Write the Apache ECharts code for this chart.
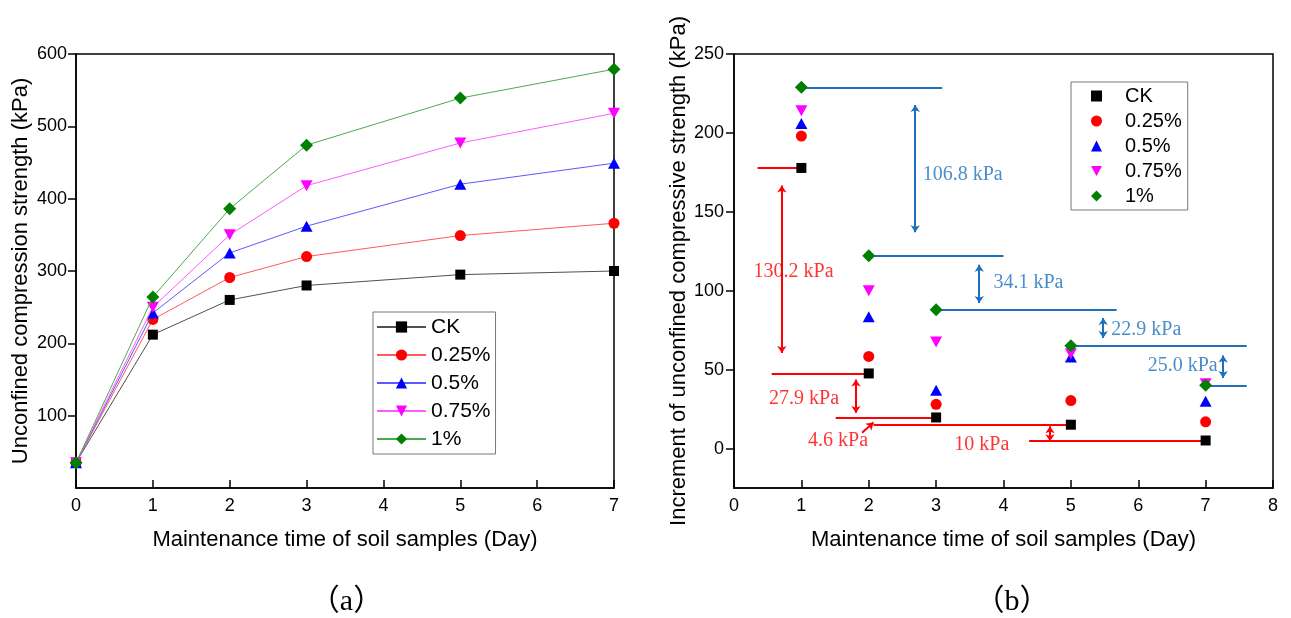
<!DOCTYPE html>
<html>
<head>
<meta charset="utf-8">
<script src="https://cdn.jsdelivr.net/npm/echarts@6/dist/echarts.min.js"></script>
<style>html,body{margin:0;padding:0;background:#fff;}#main{width:1291px;height:618px;}</style>
</head>
<body>
<div id="main"></div>
<script>
// ---------- Data: panel (a) ----------
const seriesNames = ['CK', '0.25%', '0.5%', '0.75%', '1%'];
const daysA = [0, 1, 2, 3, 5, 7];
const ckA   = [35, 212, 260, 280, 295, 300];
const p025A = [35, 233, 291, 320, 349, 366];
const p05A  = [35, 242, 325, 362, 420, 449];
const p075A = [35, 250, 350, 418, 477, 518];
const p1A   = [35, 264, 386, 474, 539, 579];
const xTicksA = [0, 1, 2, 3, 4, 5, 6, 7];
const yTicksA = [100, 200, 300, 400, 500, 600];

// ---------- Data: panel (b) ----------
const daysB = [1, 2, 3, 5, 7];
const ckB   = [177.8, 47.6, 19.7, 15.1, 5.1];
const p025B = [198, 58.4, 28, 30.4, 16.9];
const p05B  = [206, 83.5, 37, 58, 30];
const p075B = [214, 100, 67.5, 60, 41];
const p1B   = [228.9, 122.1, 88, 65.1, 40.1];
const yTicksB = [0, 50, 100, 150, 200, 250];

// ---------- Annotations (panel b, data units) ----------
const redLines   = [[0.35,177.8,1,177.8],[0.56,47.6,2.05,47.6],[1.51,19.7,3,19.7],[2.07,15.1,5,15.1],[4.38,5.1,7,5.1]];
const redArrows  = [[0.71,166.6,0.71,60.6],[1.81,43.7,1.81,22.5],[4.69,14.1,4.69,4.6]];
const redPointer = [[1.9,10,2.07,16.5]];
const blueLines  = [[1,228.9,3.09,228.9],[2,122.1,4.0,122.1],[3,88,5.68,88],[5,65.1,7.61,65.1],[7,40.1,7.61,40.1]];
const blueArrows = [[2.69,217.7,2.69,137],[3.64,116.5,3.64,92.2],[5.48,82.7,5.48,70],[7.26,58.9,7.26,44.7]];
const redLabels  = [[0.29,111.8,'130.2 kPa'],[0.52,31.6,'27.9 kPa'],[1.1,4.7,'4.6 kPa'],[3.27,2.1,'10 kPa']];
const blueLabels = [[2.8,173.4,'106.8 kPa'],[3.85,104.9,'34.1 kPa'],[5.6,75.3,'22.9 kPa'],[6.14,52.7,'25.0 kPa']];

// ---------- Styles ----------
const SANS = "'Liberation Sans', Arial, sans-serif";
const SERIF = "'Liberation Serif', 'Times New Roman', serif";
const markerColors = ['#000000', '#ff0000', '#0000ff', '#ff00ff', '#008000'];
const lineColors = ['#505050', '#ff5a5a', '#5a5aff', '#ff5aff', '#4caa4c'];
const symbols = ['rect', 'circle', 'triangle', 'triangle', 'diamond'];
const symbolRot = [0, 0, 0, 180, 0];
const symSizeA = [10, 11, [12, 11], [12, 11], 13];
const symSizeB = [10, 11, [12, 11], [12, 11], 13];
const RED = '#ff0000';
const BLUE = '#1c70bd';
const legendIconsB = [null, null, null, 'path://M0 0L12 0L6 11Z', null];

const valsA = [ckA, p025A, p05A, p075A, p1A];
const valsB = [ckB, p025B, p05B, p075B, p1B];

function axisCommon(extra) {
  return Object.assign({
    type: 'value',
    splitLine: { show: false },
    axisLine: { show: true, onZero: false, lineStyle: { color: '#000', width: 1.5 } },
    axisLabel: { color: '#000', fontSize: 18, fontFamily: SANS },
    nameLocation: 'middle',
    nameTextStyle: { color: '#000', fontSize: 22, fontFamily: SANS }
  }, extra);
}

const series = [];
seriesNames.forEach((n, i) => {
  series.push({
    name: n, type: 'line', xAxisIndex: 0, yAxisIndex: 0,
    data: daysA.map((d, k) => [d, valsA[i][k]]),
    symbol: symbols[i], symbolRotate: symbolRot[i], symbolSize: symSizeA[i],
    showAllSymbol: true,
    lineStyle: { color: lineColors[i], width: 1 },
    itemStyle: { color: markerColors[i] },
    z: 3 + i, silent: true, animation: false
  });
});
seriesNames.forEach((n, i) => {
  series.push({
    name: n + ' ', type: 'scatter', xAxisIndex: 1, yAxisIndex: 1,
    data: daysB.map((d, k) => [d, valsB[i][k]]),
    symbol: symbols[i], symbolRotate: symbolRot[i], symbolSize: symSizeB[i],
    itemStyle: { color: markerColors[i], opacity: 1 },
    z: 10 + i, silent: true, animation: false
  });
});
function linesSeries(arr, color, sym) {
  return {
    type: 'lines', coordinateSystem: 'cartesian2d', xAxisIndex: 1, yAxisIndex: 1,
    data: arr.map(l => ({ coords: [[l[0], l[1]], [l[2], l[3]]] })),
    symbol: sym, symbolSize: 7,
    lineStyle: { color: color, width: 2, opacity: 1, curveness: 0 },
    silent: true, animation: false, z: 5
  };
}
series.push(linesSeries(redLines, RED, ['none', 'none']));
series.push(linesSeries(redArrows, RED, ['arrow', 'arrow']));
series.push(linesSeries(redPointer, RED, ['none', 'arrow']));
series.push(linesSeries(blueLines, BLUE, ['none', 'none']));
series.push(linesSeries(blueArrows, BLUE, ['arrow', 'arrow']));
function labelSeries(arr, color) {
  return {
    type: 'scatter', xAxisIndex: 1, yAxisIndex: 1, symbolSize: 0,
    itemStyle: { color: 'transparent' },
    data: arr.map(d => ({ value: [d[0], d[1]], label: { formatter: d[2] } })),
    label: { show: true, position: [0, 0], align: 'left', verticalAlign: 'middle',
             color: color, fontSize: 20, fontFamily: SERIF },
    silent: true, animation: false, z: 6
  };
}
series.push(labelSeries(redLabels, RED));
series.push(labelSeries(blueLabels, BLUE));

const chart = echarts.init(document.getElementById('main'), null, { renderer: 'canvas' });
chart.setOption({
  backgroundColor: '#fff',
  animation: false,
  grid: [
    { left: 76, top: 54, width: 538, height: 434, show: true, borderColor: '#000', borderWidth: 1.5, backgroundColor: 'transparent', containLabel: false, outerBoundsMode: 'none' },
    { left: 734, top: 54, width: 539, height: 434, show: true, borderColor: '#000', borderWidth: 1.5, backgroundColor: 'transparent', containLabel: false, outerBoundsMode: 'none' }
  ],
  xAxis: [
    axisCommon({ gridIndex: 0, min: 0, max: 7, interval: 1,
      axisTick: { show: true, inside: true, length: 8, lineStyle: { color: '#000', width: 1.5 } },
      axisLabel: { color: '#000', fontSize: 18, fontFamily: SANS, margin: 9, customValues: xTicksA },
      name: 'Maintenance time of soil samples (Day)', nameGap: 41 }),
    axisCommon({ gridIndex: 1, min: 0, max: 8, interval: 1,
      axisTick: { show: true, inside: true, length: 8, lineStyle: { color: '#000', width: 1.5 } },
      axisLabel: { color: '#000', fontSize: 18, fontFamily: SANS, margin: 9 },
      name: 'Maintenance time of soil samples (Day)', nameGap: 41 })
  ],
  yAxis: [
    axisCommon({ gridIndex: 0, min: 0, max: 600, interval: 100,
      axisTick: { show: true, inside: false, length: 8, lineStyle: { color: '#000', width: 1.5 }, customValues: yTicksA },
      axisLabel: { color: '#000', fontSize: 18, fontFamily: SANS, margin: 9, customValues: yTicksA },
      name: 'Unconfined compression strength (kPa)', nameGap: 44 }),
    axisCommon({ gridIndex: 1, min: -25, max: 250,
      axisTick: { show: true, inside: false, length: 8, lineStyle: { color: '#000', width: 1.5 }, customValues: yTicksB },
      axisLabel: { color: '#000', fontSize: 18, fontFamily: SANS, margin: 10, customValues: yTicksB },
      name: 'Increment of unconfined compressive strength (kPa)', nameGap: 42 })
  ],
  legend: [
    { orient: 'vertical', left: 373, top: 312, data: seriesNames,
      itemWidth: 49, itemHeight: 14, itemGap: 6, itemTextGap: 7,
      padding: [4, 5, 4, 3], borderColor: '#777', borderWidth: 1, backgroundColor: '#fff',
      textStyle: { color: '#000', fontSize: 21, fontFamily: SANS, lineHeight: 22 },
      selectedMode: false },
    { orient: 'vertical', left: 1071, top: 82,
      data: seriesNames.map((n, i) => legendIconsB[i] ? { name: n + ' ', icon: legendIconsB[i] } : { name: n + ' ' }),
      formatter: n => n.trim(),
      itemWidth: 11, itemHeight: 11, itemGap: 5, symbolKeepAspect: true,
      padding: [4, 6, 4, 20], borderColor: '#777', borderWidth: 1, backgroundColor: '#fff',
      textStyle: { color: '#000', fontSize: 20, fontFamily: SANS, lineHeight: 20, padding: [0, 0, 0, 18] },
      selectedMode: false }
  ],
  graphic: [
    { type: 'text', x: 346.5, y: 602, style: { text: '（a）', fontSize: 30, fontFamily: "'Liberation Serif', 'Noto Sans CJK SC', serif", fill: '#000', align: 'center', verticalAlign: 'middle' } },
    { type: 'text', x: 1012, y: 602, style: { text: '（b）', fontSize: 30, fontFamily: "'Liberation Serif', 'Noto Sans CJK SC', serif", fill: '#000', align: 'center', verticalAlign: 'middle' } }
  ],
  series: series
});
</script>
</body>
</html>
